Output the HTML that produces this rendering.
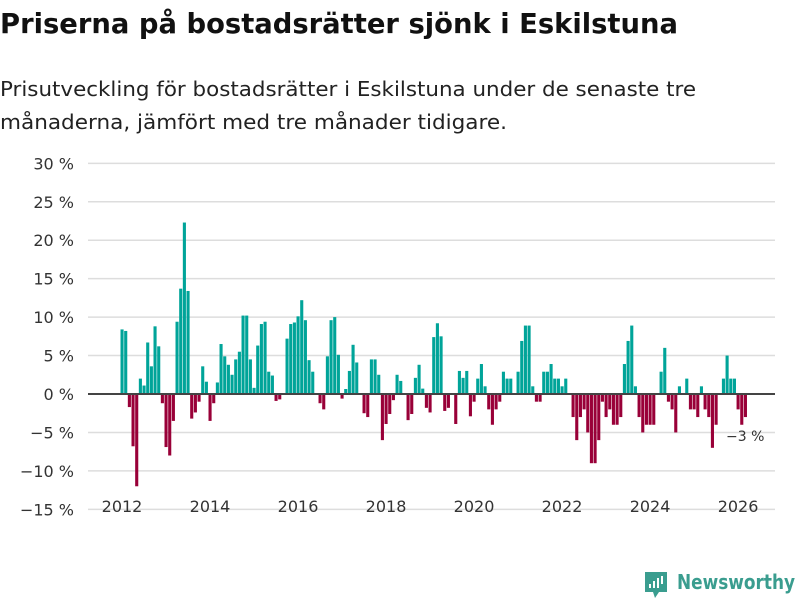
<!DOCTYPE html>
<html><head><meta charset="utf-8"><style>
body{margin:0;width:800px;height:600px;background:#fff;font-family:"DejaVu Sans","Liberation Sans",sans-serif;overflow:hidden}
svg{position:absolute;left:0;top:0;font-family:"DejaVu Sans","Liberation Sans",sans-serif}
</style></head><body>
<svg width="800" height="600" id="chart">
<text x="0" y="33" font-size="28" font-weight="bold" fill="#111" textLength="678" lengthAdjust="spacingAndGlyphs">Priserna på bostadsrätter sjönk i Eskilstuna</text>
<text x="0" y="96" font-size="20" fill="#222" textLength="696" lengthAdjust="spacingAndGlyphs">Prisutveckling för bostadsrätter i Eskilstuna under de senaste tre</text>
<text x="0" y="129" font-size="20" fill="#222" textLength="507" lengthAdjust="spacingAndGlyphs">månaderna, jämfört med tre månader tidigare.</text>
<g id="grid"></g><g id="bars"></g><g id="xaxis"></g>
<line x1="88" x2="775" y1="394" y2="394" stroke="#444" stroke-width="2"/>
<text x="726" y="441" font-size="14" fill="#333">−3 %</text>
<g>
<path d="M645 572h22v20h-8l-4 6-2-6h-8z" fill="#3a9d8f"/>
<rect x="649" y="584" width="2" height="4" fill="#fff"/><rect x="653" y="581" width="2" height="7" fill="#fff"/><rect x="657" y="578" width="2" height="10" fill="#fff"/><rect x="661" y="576" width="2" height="8" fill="#fff"/>
<text x="677" y="589" font-size="20" font-weight="bold" fill="#3a9d8f" textLength="118" lengthAdjust="spacingAndGlyphs">Newsworthy</text>
</g>
</svg>
<script>
const values=[8.4,8.2,-1.7,-6.8,-12,2,1.1,6.7,3.6,8.8,6.2,-1.2,-6.9,-8,-3.5,9.4,13.7,22.3,13.4,-3.2,-2.4,-1,3.6,1.6,-3.5,-1.2,1.5,6.5,4.9,3.8,2.5,4.5,5.5,10.2,10.2,4.5,0.8,6.3,9.1,9.4,2.9,2.4,-0.9,-0.7,0,7.2,9.1,9.3,
10.1,12.2,9.6,4.4,2.9,0,-1.2,-2,4.9,9.6,10,5.1,-0.6,0.65,3,6.4,4.1,0,-2.5,-3,4.5,4.5,2.5,-6,-3.9,-2.6,-0.8,2.5,1.7,0,-3.4,-2.6,2.1,3.8,0.7,-1.8,-2.4,7.4,9.2,7.5,-2.2,-1.8,0,-3.9,3,2.1,3,-2.9,
-1,2,3.9,1,-2,-4,-2,-1,2.9,2,2,0,2.9,6.9,8.9,8.9,1,-1,-1,2.9,2.9,3.9,2,2,1,2,0,-3,-6,-3,-2,-5,-9,-9,-6,-1,-3,-2,-4,
-4,-3,3.9,6.9,8.9,1,-3,-5,-4,-4,-4,0,2.9,6,-1,-2,-5,1,0,2,-2,-2,-3,1,-2,-3,-7,-4,0,2,5,2,2,-2,-4,-3];
const yTicks=[30,25,20,15,10,5,0,-5,-10,-15];
const xYears=[2012,2014,2016,2018,2020,2022,2024,2026];
const startYear=2012;
const NS="http://www.w3.org/2000/svg";
function y(v){return 394-v*7.689;}
function x(m){return 121+m*3.667;}
const grid=document.getElementById('grid');
yTicks.forEach(t=>{
 if(t!==0){const l=document.createElementNS(NS,'line');
 l.setAttribute('x1',88);l.setAttribute('x2',775);l.setAttribute('y1',y(t));l.setAttribute('y2',y(t));
 l.setAttribute('stroke','#ddd');l.setAttribute('stroke-width','1.5');
 
 
 grid.appendChild(l);}
 const tx=document.createElementNS(NS,'text');
 tx.setAttribute('x',74);tx.setAttribute('y',y(t)+6);tx.setAttribute('text-anchor','end');
 tx.setAttribute('font-size','16');tx.setAttribute('fill','#333');
 tx.textContent=(t<0?'−'+(-t):t)+' %';
 
 
 grid.appendChild(tx);
});
const bars=document.getElementById('bars');
values.forEach((v,i)=>{
 if(v===0)return;
 const r=document.createElementNS(NS,'rect');
 r.setAttribute('x',x(i)-0.5);r.setAttribute('width',3.1);
 r.setAttribute('y',Math.min(y(v),y(0)));r.setAttribute('height',Math.abs(y(v)-y(0)));
 r.setAttribute('fill',v>0?'#00a499':'#990038');
 
 
 bars.appendChild(r);
});
const xa=document.getElementById('xaxis');
xYears.forEach(yr=>{
 const tx=document.createElementNS(NS,'text');
 tx.setAttribute('x',x((yr-startYear)*12)+1);tx.setAttribute('y',512);tx.setAttribute('text-anchor','middle');
 tx.setAttribute('font-size','16');tx.setAttribute('fill','#333');
 tx.textContent=yr;
 
 
 xa.appendChild(tx);
});
</script>
</body></html>
